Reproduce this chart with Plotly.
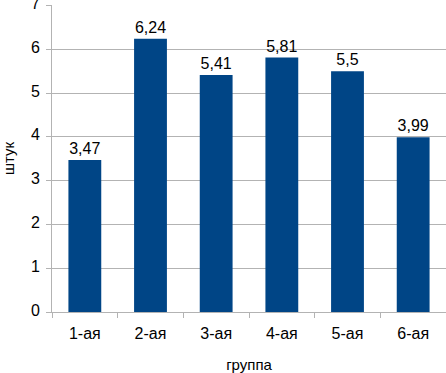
import plotly.graph_objects as go

categories = ["1-ая", "2-ая", "3-ая", "4-ая", "5-ая", "6-ая"]
values = [3.47, 6.24, 5.41, 5.81, 5.5, 3.99]
y_ticks = [0, 1, 2, 3, 4, 5, 6, 7]

fig = go.Figure(go.Bar(
    x=categories, y=values,
    marker=dict(color="#004586", line=dict(width=0)),
    text=values, texttemplate="%{y}", textposition="outside",
    textfont=dict(size=16, color="black"), cliponaxis=False,
))

fig.update_layout(
    width=446, height=373,
    margin=dict(l=52, r=0, t=5, b=61, autoexpand=False),
    paper_bgcolor="white", plot_bgcolor="white",
    separators=", ",
    font=dict(family="Liberation Sans, Arial, sans-serif", size=16, color="black"),
    bargap=0.5, showlegend=False,
)
fig.update_xaxes(
    title=dict(text="группа", font=dict(size=15), standoff=19),
    automargin=False,
    showline=True, linecolor="#b3b3b3", linewidth=1,
    ticks="outside", tickson="boundaries", ticklen=5, tickcolor="#b3b3b3",
    ticklabelstandoff=7,
    showgrid=False,
)
fig.update_yaxes(
    title=dict(text="штук", font=dict(size=15), standoff=16),
    automargin=False,
    range=[0, 7.01], tickvals=y_ticks,
    showline=True, linecolor="#b3b3b3", linewidth=1,
    ticks="outside", ticklen=5, tickcolor="#b3b3b3",
    ticklabeloverflow="allow", ticklabelstandoff=3, ticklabelshift=-2,
    showgrid=True, gridcolor="#b3b3b3", gridwidth=1,
    zeroline=False,
)

fig.write_html("out.html", config={"displayModeBar": False},
               post_script="document.body.style.margin='0';")
